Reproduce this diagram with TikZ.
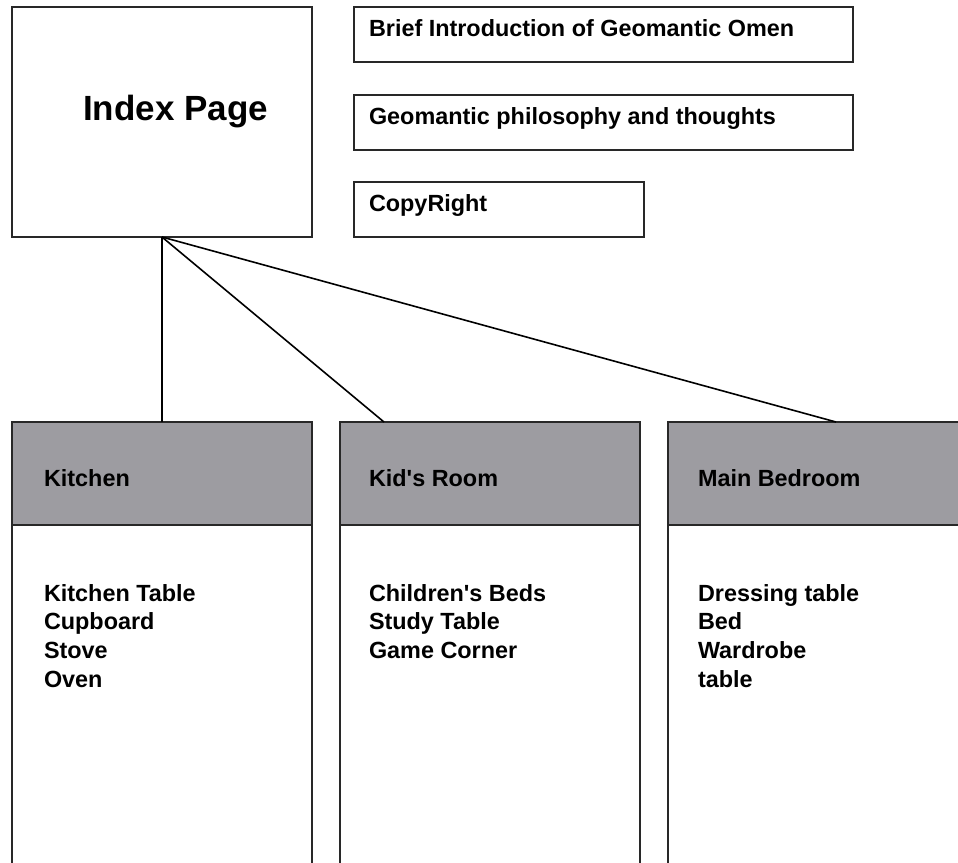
\documentclass[tikz,border=0pt]{standalone}
\usepackage{fontspec}
\setmainfont{Liberation Sans}
\definecolor{headgray}{RGB}{157,156,161}
\definecolor{edge}{RGB}{40,40,40}
\begin{document}
\begin{tikzpicture}[x=1pt,y=-1pt,
  box/.style={draw=edge, line width=1.8pt, inner sep=0pt, outer sep=0pt, anchor=north west},
  headbox/.style={box, fill=headgray},
  txt/.style={anchor=base west, inner sep=0pt, outer sep=0pt, font=\fontsize{23.4}{28}\selectfont\bfseries},
  bigtxt/.style={anchor=base west, inner sep=0pt, font=\fontsize{35}{40}\selectfont\bfseries},
  link/.style={draw=black, line width=1.6pt}]
\useasboundingbox (0,0) rectangle (958,862);
\clip (0,0) rectangle (958,862);

% index page and top boxes
\node[box, minimum width=300pt, minimum height=230pt] (index) at (12,7) {};
\node[bigtxt] (indexlabel) at (83,120) {Index Page};

\node[box, minimum width=499pt, minimum height=55pt] (brief) at (354,7) {};
\node[txt] (brieflabel) at (369,36) {Brief Introduction of Geomantic Omen};
\node[box, minimum width=499pt, minimum height=55pt] (philo) at (354,95) {};
\node[txt] (philolabel) at (369,124) {Geomantic philosophy and thoughts};
\node[box, minimum width=290pt, minimum height=55pt] (copy) at (354,182) {};
\node[txt] (copylabel) at (369,211) {CopyRight};

% room columns
\node[box, minimum width=300pt, minimum height=520pt] (kitchen) at (12,422) {};
\node[headbox, minimum width=300pt, minimum height=103pt] (kitchenhead) at (12,422) {};
\node[txt] (kitchenlabel) at (44,486) {Kitchen};
\foreach \t [count=\i] in {Kitchen Table, Cupboard, Stove, Oven}
  \node[txt] (kitem\i) at (44,{601+28.7*(\i-1)}) {\t};

\node[box, minimum width=300pt, minimum height=520pt] (kids) at (340,422) {};
\node[headbox, minimum width=300pt, minimum height=103pt] (kidshead) at (340,422) {};
\node[txt] (kidslabel) at (369,486) {Kid\textquotesingle s Room};
\foreach \t [count=\i] in {Children\textquotesingle s Beds, Study Table, Game Corner}
  \node[txt] (citem\i) at (369,{601+28.7*(\i-1)}) {\t};

\node[box, minimum width=320pt, minimum height=520pt] (bed) at (668,422) {};
\node[headbox, minimum width=320pt, minimum height=103pt] (bedhead) at (668,422) {};
\node[txt] (bedlabel) at (698,486) {Main Bedroom};
\foreach \t [count=\i] in {Dressing table, Bed, Wardrobe, table}
  \node[txt] (bitem\i) at (698,{601+28.7*(\i-1)}) {\t};

% connectors
\coordinate (kidstop) at (384,422);
\coordinate (bedtop) at (836,422);
\draw[link] (index.south) -- (kitchenhead.north);
\draw[link] (index.south) -- (kidstop);
\draw[link] (index.south) -- (bedtop);
\end{tikzpicture}
\end{document}
